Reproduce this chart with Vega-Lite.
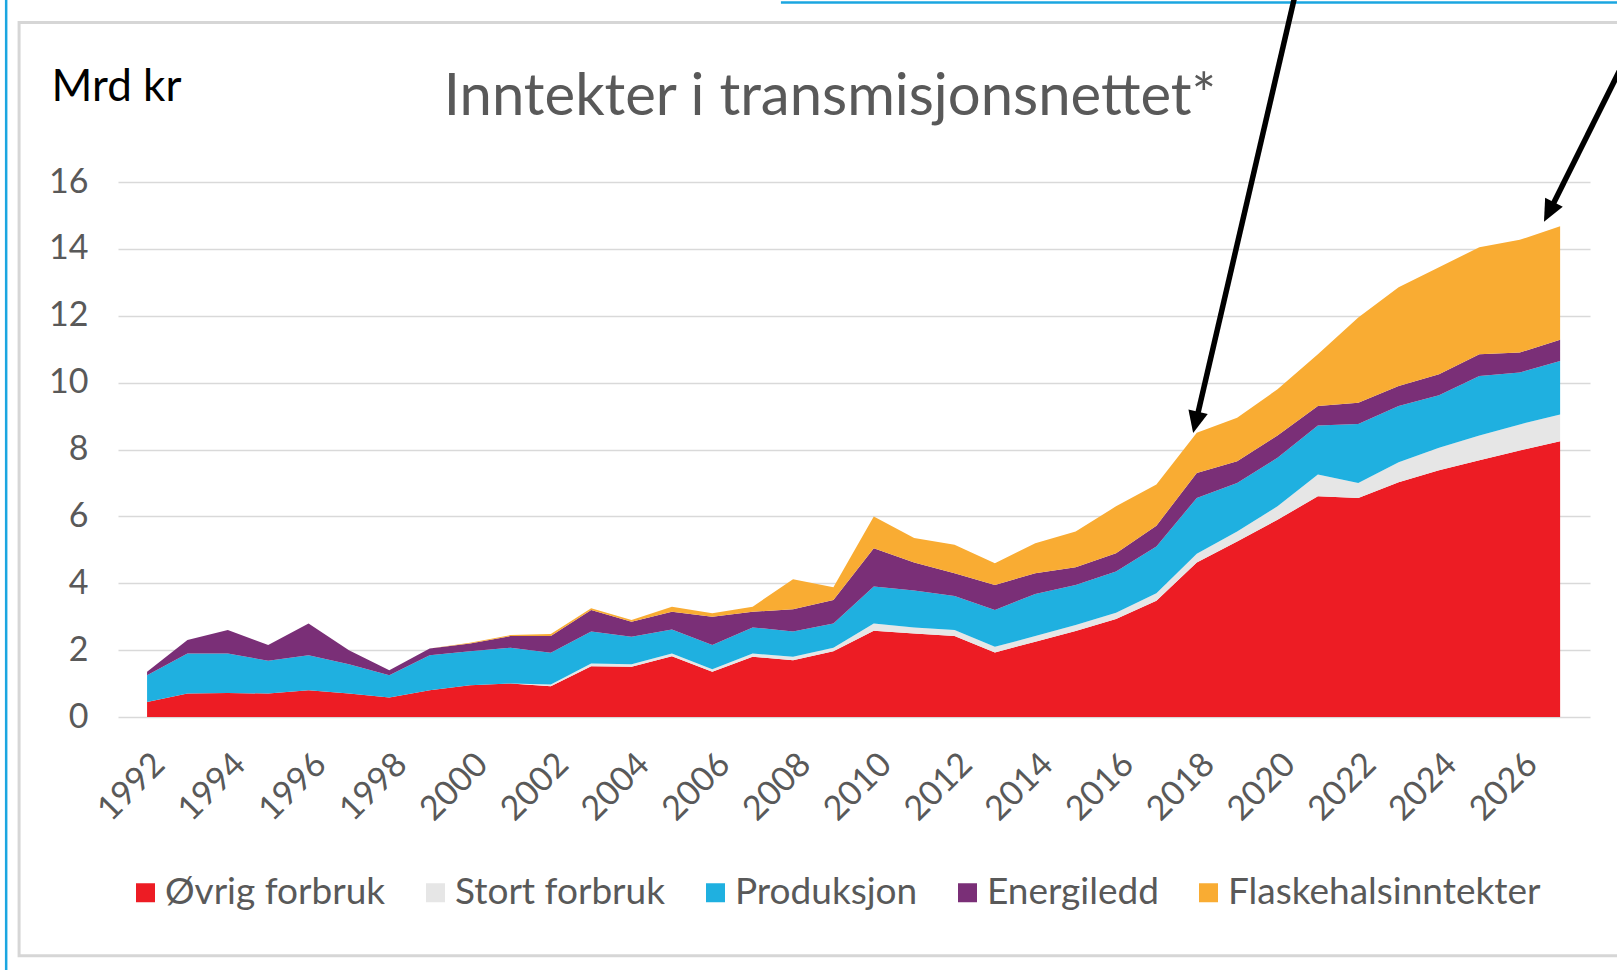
{
  "$schema": "https://vega.github.io/schema/vega-lite/v6.json",
  "autosize": {"type": "none"},
  "width": 1472,
  "height": 535,
  "padding": {"left": 118, "top": 182, "right": 27, "bottom": 253},
  "background": "white",
  "config": {
    "font": "Lato",
    "view": {"stroke": null},
    "axisX": {
      "format": "d",
      "labelAngle": -45,
      "labelAlign": "right",
      "labelBaseline": "top",
      "labelPadding": 30,
      "labelDx": -17,
      "labelFontSize": 34,
      "labelFont": "Lato",
      "labelColor": "#595959",
      "labelOverlap": false,
      "domain": false,
      "ticks": false,
      "grid": false
    },
    "axisY": {
      "grid": true,
      "gridColor": "#D9D9D9",
      "gridWidth": 1.5,
      "domain": false,
      "ticks": false,
      "labelFontSize": 34,
      "labelFont": "Lato",
      "labelColor": "#595959",
      "labelPadding": 30,
      "titleAngle": 0,
      "titleAlign": "left",
      "titleBaseline": "alphabetic",
      "titleX": -67,
      "titleY": -82,
      "titleFontSize": 44,
      "titleFont": "Lato",
      "titleFontWeight": "normal",
      "titleColor": "#000000"
    }
  },
  "title": {
    "text": "Inntekter i transmisjonsnettet*",
    "fontSize": 58,
    "font": "Lato",
    "fontWeight": "normal",
    "color": "#595959",
    "anchor": "middle",
    "frame": "group",
    "baseline": "alphabetic",
    "offset": 0,
    "dy": 176,
    "dx": -24
  },
  "datasets": {
    "revenue": [
      {"year": 1992, "Øvrig forbruk": 0.45, "Stort forbruk": 0, "Produksjon": 0.80, "Energiledd": 0.10, "Flaskehalsinntekter": 0},
      {"year": 1993, "Øvrig forbruk": 0.70, "Stort forbruk": 0, "Produksjon": 1.20, "Energiledd": 0.40, "Flaskehalsinntekter": 0},
      {"year": 1994, "Øvrig forbruk": 0.72, "Stort forbruk": 0, "Produksjon": 1.18, "Energiledd": 0.70, "Flaskehalsinntekter": 0},
      {"year": 1995, "Øvrig forbruk": 0.70, "Stort forbruk": 0, "Produksjon": 0.98, "Energiledd": 0.47, "Flaskehalsinntekter": 0},
      {"year": 1996, "Øvrig forbruk": 0.80, "Stort forbruk": 0, "Produksjon": 1.05, "Energiledd": 0.95, "Flaskehalsinntekter": 0},
      {"year": 1997, "Øvrig forbruk": 0.70, "Stort forbruk": 0, "Produksjon": 0.88, "Energiledd": 0.42, "Flaskehalsinntekter": 0},
      {"year": 1998, "Øvrig forbruk": 0.58, "Stort forbruk": 0, "Produksjon": 0.67, "Energiledd": 0.15, "Flaskehalsinntekter": 0},
      {"year": 1999, "Øvrig forbruk": 0.80, "Stort forbruk": 0, "Produksjon": 1.05, "Energiledd": 0.20, "Flaskehalsinntekter": 0},
      {"year": 2000, "Øvrig forbruk": 0.95, "Stort forbruk": 0, "Produksjon": 1.02, "Energiledd": 0.23, "Flaskehalsinntekter": 0.02},
      {"year": 2001, "Øvrig forbruk": 1.00, "Stort forbruk": 0, "Produksjon": 1.07, "Energiledd": 0.35, "Flaskehalsinntekter": 0.03},
      {"year": 2002, "Øvrig forbruk": 0.92, "Stort forbruk": 0.05, "Produksjon": 0.95, "Energiledd": 0.50, "Flaskehalsinntekter": 0.06},
      {"year": 2003, "Øvrig forbruk": 1.52, "Stort forbruk": 0.08, "Produksjon": 0.96, "Energiledd": 0.64, "Flaskehalsinntekter": 0.05},
      {"year": 2004, "Øvrig forbruk": 1.50, "Stort forbruk": 0.08, "Produksjon": 0.82, "Energiledd": 0.45, "Flaskehalsinntekter": 0.05},
      {"year": 2005, "Øvrig forbruk": 1.82, "Stort forbruk": 0.08, "Produksjon": 0.72, "Energiledd": 0.53, "Flaskehalsinntekter": 0.15},
      {"year": 2006, "Øvrig forbruk": 1.35, "Stort forbruk": 0.08, "Produksjon": 0.72, "Energiledd": 0.85, "Flaskehalsinntekter": 0.10},
      {"year": 2007, "Øvrig forbruk": 1.80, "Stort forbruk": 0.10, "Produksjon": 0.78, "Energiledd": 0.47, "Flaskehalsinntekter": 0.15},
      {"year": 2008, "Øvrig forbruk": 1.70, "Stort forbruk": 0.10, "Produksjon": 0.76, "Energiledd": 0.66, "Flaskehalsinntekter": 0.90},
      {"year": 2009, "Øvrig forbruk": 1.97, "Stort forbruk": 0.10, "Produksjon": 0.73, "Energiledd": 0.70, "Flaskehalsinntekter": 0.38},
      {"year": 2010, "Øvrig forbruk": 2.58, "Stort forbruk": 0.22, "Produksjon": 1.10, "Energiledd": 1.15, "Flaskehalsinntekter": 0.95},
      {"year": 2011, "Øvrig forbruk": 2.50, "Stort forbruk": 0.18, "Produksjon": 1.10, "Energiledd": 0.84, "Flaskehalsinntekter": 0.73},
      {"year": 2012, "Øvrig forbruk": 2.42, "Stort forbruk": 0.18, "Produksjon": 1.02, "Energiledd": 0.68, "Flaskehalsinntekter": 0.85},
      {"year": 2013, "Øvrig forbruk": 1.93, "Stort forbruk": 0.17, "Produksjon": 1.10, "Energiledd": 0.75, "Flaskehalsinntekter": 0.65},
      {"year": 2014, "Øvrig forbruk": 2.25, "Stort forbruk": 0.17, "Produksjon": 1.26, "Energiledd": 0.62, "Flaskehalsinntekter": 0.90},
      {"year": 2015, "Øvrig forbruk": 2.57, "Stort forbruk": 0.18, "Produksjon": 1.20, "Energiledd": 0.53, "Flaskehalsinntekter": 1.07},
      {"year": 2016, "Øvrig forbruk": 2.93, "Stort forbruk": 0.19, "Produksjon": 1.23, "Energiledd": 0.55, "Flaskehalsinntekter": 1.40},
      {"year": 2017, "Øvrig forbruk": 3.48, "Stort forbruk": 0.22, "Produksjon": 1.40, "Energiledd": 0.62, "Flaskehalsinntekter": 1.23},
      {"year": 2018, "Øvrig forbruk": 4.62, "Stort forbruk": 0.26, "Produksjon": 1.67, "Energiledd": 0.75, "Flaskehalsinntekter": 1.20},
      {"year": 2019, "Øvrig forbruk": 5.25, "Stort forbruk": 0.30, "Produksjon": 1.45, "Energiledd": 0.65, "Flaskehalsinntekter": 1.30},
      {"year": 2020, "Øvrig forbruk": 5.90, "Stort forbruk": 0.40, "Produksjon": 1.45, "Energiledd": 0.67, "Flaskehalsinntekter": 1.38},
      {"year": 2021, "Øvrig forbruk": 6.60, "Stort forbruk": 0.65, "Produksjon": 1.47, "Energiledd": 0.58, "Flaskehalsinntekter": 1.55},
      {"year": 2022, "Øvrig forbruk": 6.55, "Stort forbruk": 0.45, "Produksjon": 1.76, "Energiledd": 0.64, "Flaskehalsinntekter": 2.55},
      {"year": 2023, "Øvrig forbruk": 7.02, "Stort forbruk": 0.60, "Produksjon": 1.68, "Energiledd": 0.60, "Flaskehalsinntekter": 2.95},
      {"year": 2024, "Øvrig forbruk": 7.38, "Stort forbruk": 0.67, "Produksjon": 1.57, "Energiledd": 0.63, "Flaskehalsinntekter": 3.20},
      {"year": 2025, "Øvrig forbruk": 7.68, "Stort forbruk": 0.74, "Produksjon": 1.78, "Energiledd": 0.65, "Flaskehalsinntekter": 3.20},
      {"year": 2026, "Øvrig forbruk": 7.97, "Stort forbruk": 0.78, "Produksjon": 1.55, "Energiledd": 0.60, "Flaskehalsinntekter": 3.37},
      {"year": 2027, "Øvrig forbruk": 8.25, "Stort forbruk": 0.80, "Produksjon": 1.60, "Energiledd": 0.63, "Flaskehalsinntekter": 3.40}
    ],
    "arrows": [
      {"id": 1, "x": 2020.41, "y": 21.46, "ex": 2017.97, "ey": 8.78, "tx": 2017.91, "ty": 8.49},
      {"id": 2, "x": 2029.35, "y": 21.46, "ex": 2026.72, "ey": 15.08, "tx": 2026.60, "ty": 14.81}
    ],
    "frame": [
      {"x": 1988.83, "x2": 2030, "y": 20.77, "y2": -7.14}
    ],
    "edges": [
      {"x": 1988.51, "x2": 1988.51, "y": 21.46, "y2": -7.7},
      {"x": 2007.7, "x2": 2030, "y": 21.37, "y2": 21.37}
    ]
  },
  "layer": [
    {
      "data": {"name": "revenue"},
      "transform": [
        {"fold": ["Øvrig forbruk", "Stort forbruk", "Produksjon", "Energiledd", "Flaskehalsinntekter"], "as": ["series", "value"]},
        {"lookup": "series", "from": {"data": {"values": [
          {"series": "Øvrig forbruk", "rank": 1},
          {"series": "Stort forbruk", "rank": 2},
          {"series": "Produksjon", "rank": 3},
          {"series": "Energiledd", "rank": 4},
          {"series": "Flaskehalsinntekter", "rank": 5}
        ]}, "key": "series", "fields": ["rank"]}}
      ],
      "mark": {"type": "area", "opacity": 1},
      "encoding": {
        "x": {
          "field": "year", "type": "quantitative", "title": null,
          "scale": {"domain": [1991.28, 2027.74], "nice": false, "zero": false},
          "axis": {"values": [1992, 1994, 1996, 1998, 2000, 2002, 2004, 2006, 2008, 2010, 2012, 2014, 2016, 2018, 2020, 2022, 2024, 2026]}
        },
        "y": {
          "field": "value", "type": "quantitative", "stack": "zero", "title": "Mrd kr",
          "scale": {"domain": [0, 16], "nice": false},
          "axis": {"values": [0, 2, 4, 6, 8, 10, 12, 14, 16]}
        },
        "color": {
          "field": "series", "type": "nominal",
          "scale": {
            "domain": ["Øvrig forbruk", "Stort forbruk", "Produksjon", "Energiledd", "Flaskehalsinntekter"],
            "range": ["#ED1C24", "#E6E6E6", "#1FB0E0", "#7A2F77", "#F9AC33"]
          },
          "legend": {
            "orient": "none",
            "direction": "horizontal",
            "legendX": 9,
            "legendY": 692,
            "title": null,
            "symbolType": "square",
            "symbolSize": 361,
            "symbolStrokeWidth": 0,
            "labelFontSize": 37,
            "labelFont": "Lato",
            "labelColor": "#595959",
            "labelOffset": 1,
            "labelLimit": 1000,
            "columnPadding": 31,
            "padding": 0
          }
        },
        "order": {"field": "rank", "type": "quantitative"}
      }
    },
    {
      "data": {"name": "frame"},
      "mark": {"type": "rect", "fill": null, "stroke": "#D6D6D6", "strokeWidth": 3},
      "encoding": {
        "x": {"field": "x", "type": "quantitative", "title": null, "scale": {"domain": [1991.28, 2027.74], "nice": false, "zero": false},
          "axis": {"values": [1992, 1994, 1996, 1998, 2000, 2002, 2004, 2006, 2008, 2010, 2012, 2014, 2016, 2018, 2020, 2022, 2024, 2026]}},
        "x2": {"field": "x2"},
        "y": {"field": "y", "type": "quantitative", "title": "Mrd kr", "scale": {"domain": [0, 16], "nice": false},
          "axis": {"values": [0, 2, 4, 6, 8, 10, 12, 14, 16]}},
        "y2": {"field": "y2"}
      }
    },
    {
      "data": {"name": "edges"},
      "mark": {"type": "rule", "color": "#1BA6E0", "strokeWidth": 2.5},
      "encoding": {
        "x": {"field": "x", "type": "quantitative", "title": null, "scale": {"domain": [1991.28, 2027.74], "nice": false, "zero": false},
          "axis": {"values": [1992, 1994, 1996, 1998, 2000, 2002, 2004, 2006, 2008, 2010, 2012, 2014, 2016, 2018, 2020, 2022, 2024, 2026]}},
        "x2": {"field": "x2"},
        "y": {"field": "y", "type": "quantitative", "title": "Mrd kr", "scale": {"domain": [0, 16], "nice": false},
          "axis": {"values": [0, 2, 4, 6, 8, 10, 12, 14, 16]}},
        "y2": {"field": "y2"}
      }
    },
    {
      "data": {"name": "arrows"},
      "mark": {"type": "rule", "color": "#000000", "strokeWidth": 5.5},
      "encoding": {
        "x": {"field": "x", "type": "quantitative", "title": null, "scale": {"domain": [1991.28, 2027.74], "nice": false, "zero": false},
          "axis": {"values": [1992, 1994, 1996, 1998, 2000, 2002, 2004, 2006, 2008, 2010, 2012, 2014, 2016, 2018, 2020, 2022, 2024, 2026]}},
        "x2": {"field": "ex"},
        "y": {"field": "y", "type": "quantitative", "title": "Mrd kr", "scale": {"domain": [0, 16], "nice": false},
          "axis": {"values": [0, 2, 4, 6, 8, 10, 12, 14, 16]}},
        "y2": {"field": "ey"}
      }
    },
    {
      "data": {"name": "arrows"},
      "transform": [{"filter": "datum.id == 1"}],
      "mark": {"type": "point", "shape": "M0,0L-0.9,-2L0.9,-2Z", "size": 484, "filled": true, "color": "#000000", "opacity": 1, "angle": 13, "strokeWidth": 0},
      "encoding": {
        "x": {"field": "tx", "type": "quantitative", "title": null, "scale": {"domain": [1991.28, 2027.74], "nice": false, "zero": false},
          "axis": {"values": [1992, 1994, 1996, 1998, 2000, 2002, 2004, 2006, 2008, 2010, 2012, 2014, 2016, 2018, 2020, 2022, 2024, 2026]}},
        "y": {"field": "ty", "type": "quantitative", "title": "Mrd kr", "scale": {"domain": [0, 16], "nice": false},
          "axis": {"values": [0, 2, 4, 6, 8, 10, 12, 14, 16]}}
      }
    },
    {
      "data": {"name": "arrows"},
      "transform": [{"filter": "datum.id == 2"}],
      "mark": {"type": "point", "shape": "M0,0L-0.9,-2L0.9,-2Z", "size": 484, "filled": true, "color": "#000000", "opacity": 1, "angle": 27, "strokeWidth": 0},
      "encoding": {
        "x": {"field": "tx", "type": "quantitative", "title": null, "scale": {"domain": [1991.28, 2027.74], "nice": false, "zero": false},
          "axis": {"values": [1992, 1994, 1996, 1998, 2000, 2002, 2004, 2006, 2008, 2010, 2012, 2014, 2016, 2018, 2020, 2022, 2024, 2026]}},
        "y": {"field": "ty", "type": "quantitative", "title": "Mrd kr", "scale": {"domain": [0, 16], "nice": false},
          "axis": {"values": [0, 2, 4, 6, 8, 10, 12, 14, 16]}}
      }
    }
  ]
}
